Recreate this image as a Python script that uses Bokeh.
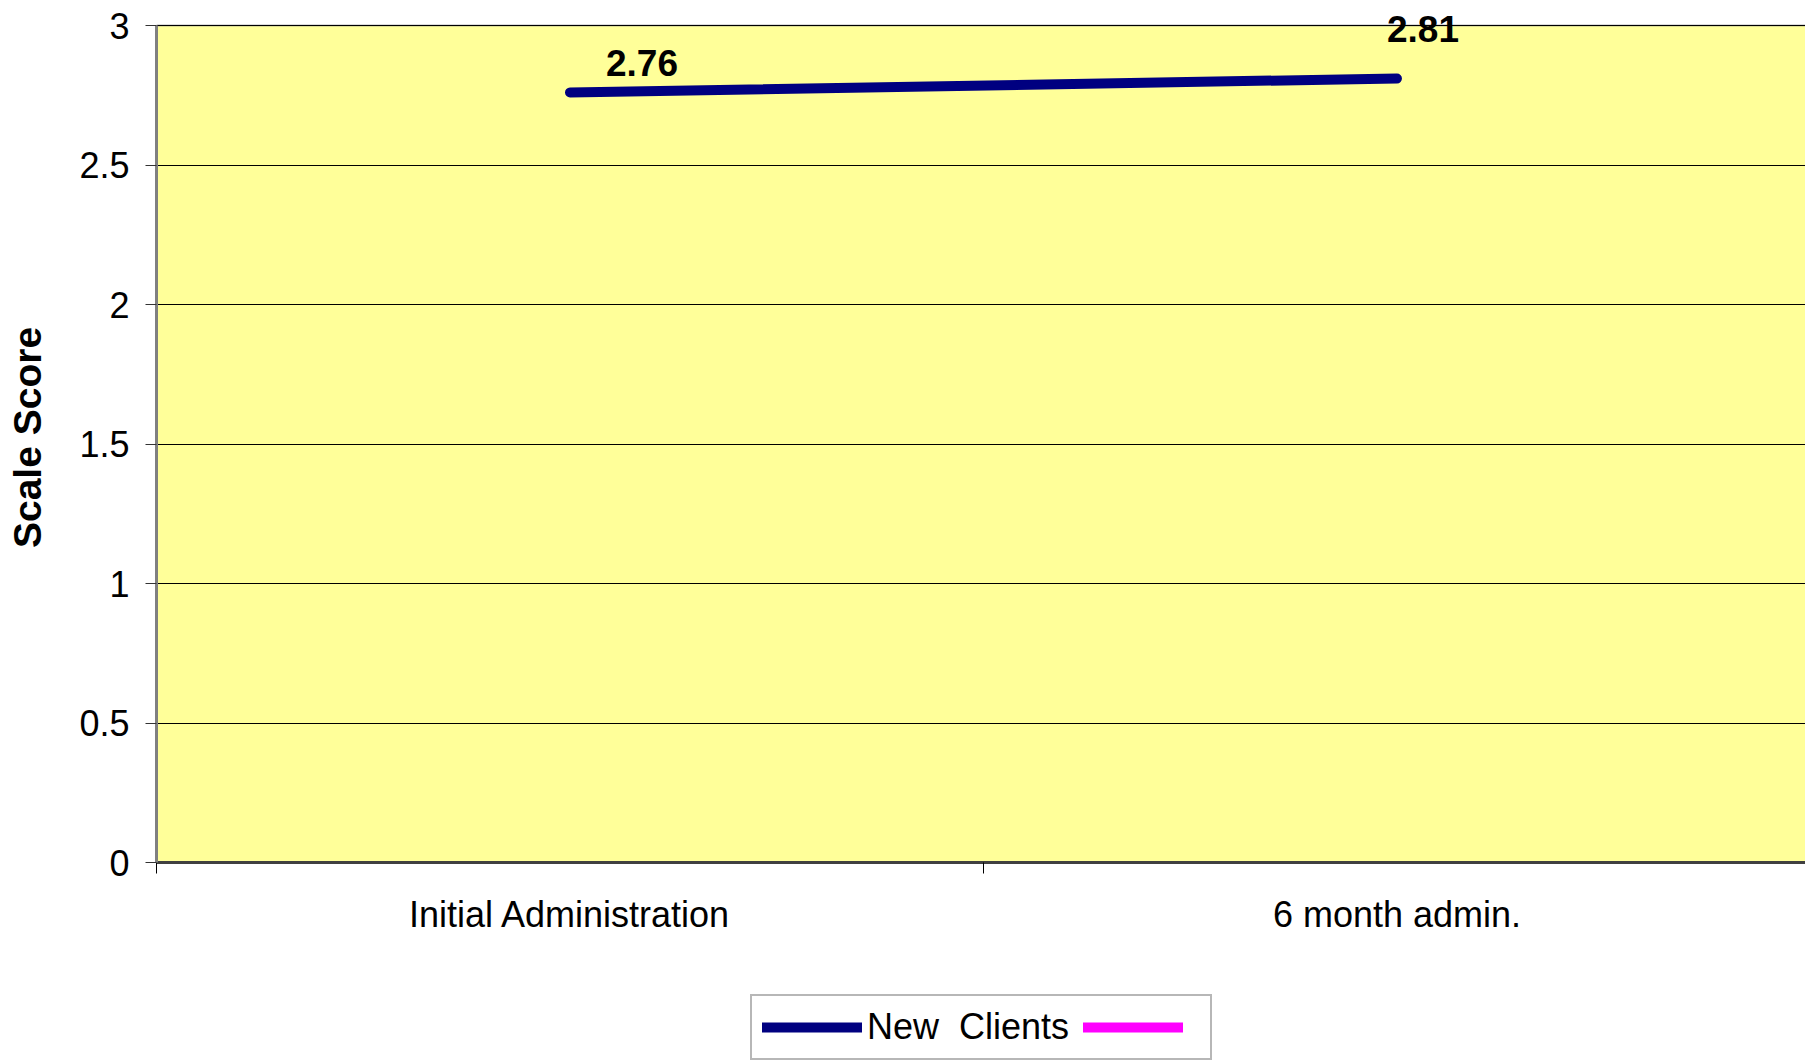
from bokeh.plotting import figure
from bokeh.layouts import column
from bokeh.models import Range1d, FixedTicker, Legend, LegendItem, Label, BoxAnnotation
from bokeh.embed import file_html
from bokeh.resources import INLINE

# --- data -------------------------------------------------------------
categories = ["Initial Administration", "6 month admin."]
new_clients = [2.76, 2.81]
other_series = [float("nan"), float("nan")]   # second series: no values
y_ticks = [0, 0.5, 1, 1.5, 2, 2.5, 3]
legend_labels = ["New  Clients", " "]
series_colors = ["#000080", "#FF00FF"]

# value labels come straight from the series
value_labels = [f"{v:.2f}" for v in new_clients]

# category slots: centres at i + 0.5, boundaries at integers
cat_pos = [i + 0.5 for i in range(len(categories))]
cat_edges = list(range(len(categories) + 1))

FONT = "Liberation Sans"
W = 1805
MAIN_H = 992
FRAME_TOP = 12          # px from the top of the main figure
FRAME_BOTTOM = 862
AREA_TOP = 25           # where the top of the plot area sits
frame_h = FRAME_BOTTOM - FRAME_TOP

y_top = y_ticks[-1]
y_end = y_top * frame_h / (FRAME_BOTTOM - AREA_TOP)

p = figure(
    width=W, height=MAIN_H,
    output_backend="svg", toolbar_location=None,
    x_range=Range1d(0, 1.994), y_range=Range1d(0, y_end),
    min_border_left=156, min_border_right=0,
    min_border_top=FRAME_TOP, min_border_bottom=MAIN_H - FRAME_BOTTOM,
)
p.background_fill_color = "white"
p.border_fill_color = "white"
p.outline_line_color = None

# pale yellow plot area with grey border, below the grid lines
plot_area = BoxAnnotation(
    left=0, right=len(categories) + 1, bottom=0, top=y_top,
    fill_color="#FFFF99", fill_alpha=1.0,
    line_color="#888888", line_width=3, level="image",
)
p.add_layout(plot_area)

# y axis
ya = p.yaxis[0]
ya.bounds = (0, y_top)
ya.ticker = FixedTicker(ticks=y_ticks)
ya.major_label_overrides = {t: f"{t:g}" for t in y_ticks}
ya.major_label_text_font = FONT
ya.major_label_text_font_size = "36px"
ya.major_label_text_color = "black"
ya.major_label_standoff = 16
ya.major_tick_out = 11
ya.major_tick_in = 0
ya.major_tick_line_color = "#333333"
ya.minor_tick_line_color = None
ya.axis_line_color = "#808080"
ya.axis_line_width = 3
ya.axis_label = "Scale Score"
ya.axis_label_text_font = FONT
ya.axis_label_text_font_size = "39px"
ya.axis_label_text_font_style = "bold"
ya.axis_label_text_color = "black"
ya.axis_label_standoff = 27

# x axis: labels at slot centres, tick marks at slot edges
xa = p.xaxis[0]
xa.ticker = FixedTicker(ticks=cat_pos, minor_ticks=cat_edges)
xa.major_label_overrides = {pos: name for pos, name in zip(cat_pos, categories)}
xa.major_label_text_font = FONT
xa.major_label_text_font_size = "36px"
xa.major_label_text_color = "black"
xa.major_label_standoff = 20
xa.major_tick_line_color = None
xa.major_tick_out = 0
xa.major_tick_in = 0
xa.minor_tick_out = 11
xa.minor_tick_in = 0
xa.minor_tick_line_color = "black"
xa.minor_tick_line_width = 1
xa.axis_line_color = "#404040"
xa.axis_line_width = 3

p.xgrid.visible = False
p.ygrid.grid_line_color = "black"
p.ygrid.grid_line_width = 1

# series
p.line(x=cat_pos, y=new_clients, line_color=series_colors[0],
       line_width=10, line_cap="round")

# value labels
label_dx = [36, -10]
label_dy = [29, 50]
for x, y, txt, dx, dy in zip(cat_pos, new_clients, value_labels, label_dx, label_dy):
    p.add_layout(Label(
        x=x, y=y, text=txt, x_offset=dx, y_offset=dy,
        text_font=FONT, text_font_size="37px", text_font_style="bold",
        text_color="black", text_baseline="alphabetic", text_align="left",
    ))

# legend strip under the chart (its frame lines up with the chart's frame)
LEG_H = 1064 - MAIN_H
lg = figure(
    width=W, height=LEG_H,
    output_backend="svg", toolbar_location=None,
    x_axis_type=None, y_axis_type=None,
    x_range=Range1d(0, 1), y_range=Range1d(0, 1),
    min_border=0,
)
lg.outline_line_color = None
lg.background_fill_color = "white"
lg.border_fill_color = "white"
lg.xgrid.visible = False
lg.ygrid.visible = False

swatches = [lg.line(x=cat_pos, y=vals, line_color=c, line_width=10, line_cap="round")
            for vals, c in zip([new_clients, other_series], series_colors)]
legend = Legend(
    items=[LegendItem(label=lab, renderers=[r]) for lab, r in zip(legend_labels, swatches)],
    orientation="horizontal",
    location=(594, 4),
    padding=10, spacing=14, margin=0,
    glyph_width=100, glyph_height=40, label_standoff=5, label_width=12,
    label_text_font=FONT, label_text_font_size="36px",
    label_text_color="black",
    border_line_color="#707070", border_line_width=2,
    background_fill_color="white", background_fill_alpha=1.0,
)
lg.add_layout(legend, "center")

open("out.html", "w").write(file_html(column(p, lg, spacing=0), INLINE))
